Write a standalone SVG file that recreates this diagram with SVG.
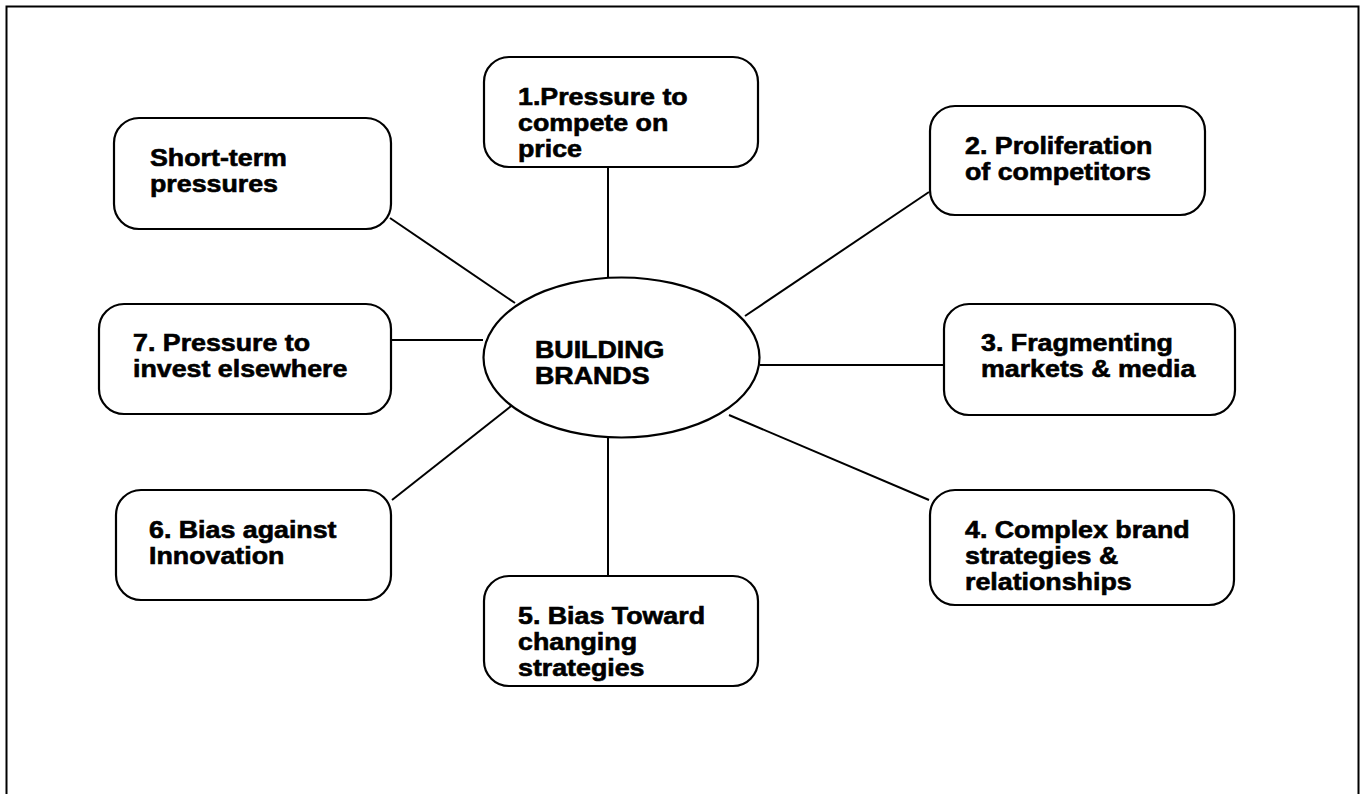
<svg xmlns="http://www.w3.org/2000/svg" width="1362" height="794" viewBox="0 0 1362 794">
  <style>
    .box { fill: #ffffff; stroke: #000000; stroke-width: 2.2; }
    .conn { stroke: #000000; stroke-width: 2; fill: none; }
    .lbl { font-family: "Liberation Sans", Arial, Helvetica, sans-serif; font-weight: bold; font-size: 23px; fill: #000000; stroke: #000000; stroke-width: 0.6; }
  </style>
  <rect x="0" y="0" width="1362" height="794" fill="#ffffff"/>
  <rect id="frame" x="6.5" y="6.5" width="1352" height="800" fill="none" stroke="#000000" stroke-width="2"/>

  <g id="connectors">
    <line class="conn" x1="390" y1="218" x2="515" y2="303"/>
    <line class="conn" x1="608" y1="168" x2="608" y2="278"/>
    <line class="conn" x1="745" y1="316" x2="929" y2="192"/>
    <line class="conn" x1="760" y1="365" x2="943" y2="365"/>
    <line class="conn" x1="729" y1="415" x2="929" y2="500"/>
    <line class="conn" x1="608" y1="438" x2="608" y2="575"/>
    <line class="conn" x1="392" y1="500" x2="515" y2="403"/>
    <line class="conn" x1="392" y1="340" x2="483" y2="340"/>
  </g>

  <g id="center">
    <ellipse class="box" cx="621.5" cy="357.5" rx="138" ry="80"/>
    <g transform="translate(535,358) scale(1.165,1)">
      <text class="lbl"><tspan x="0" y="0">BUILDING</tspan><tspan x="0" y="26">BRANDS</tspan></text>
    </g>
  </g>

  <g id="short-term">
    <rect class="box" x="114" y="118" width="277" height="111" rx="25" ry="25"/>
    <g transform="translate(150,166) scale(1.165,1)">
      <text class="lbl"><tspan x="0" y="0">Short-term</tspan><tspan x="0" y="26">pressures</tspan></text>
    </g>
  </g>

  <g id="node1">
    <rect class="box" x="484" y="57" width="274" height="110" rx="25" ry="25"/>
    <g transform="translate(518,105) scale(1.165,1)">
      <text class="lbl"><tspan x="0" y="0">1.Pressure to</tspan><tspan x="0" y="26">compete on</tspan><tspan x="0" y="52">price</tspan></text>
    </g>
  </g>

  <g id="node2">
    <rect class="box" x="930" y="106" width="275" height="109" rx="25" ry="25"/>
    <g transform="translate(965,154) scale(1.165,1)">
      <text class="lbl"><tspan x="0" y="0">2. Proliferation</tspan><tspan x="0" y="26">of competitors</tspan></text>
    </g>
  </g>

  <g id="node3">
    <rect class="box" x="944" y="304" width="291" height="111" rx="25" ry="25"/>
    <g transform="translate(981,351) scale(1.165,1)">
      <text class="lbl"><tspan x="0" y="0">3. Fragmenting</tspan><tspan x="0" y="26">markets &amp; media</tspan></text>
    </g>
  </g>

  <g id="node4">
    <rect class="box" x="930" y="490" width="304" height="115" rx="25" ry="25"/>
    <g transform="translate(965,538) scale(1.165,1)">
      <text class="lbl"><tspan x="0" y="0">4. Complex brand</tspan><tspan x="0" y="26">strategies &amp;</tspan><tspan x="0" y="52">relationships</tspan></text>
    </g>
  </g>

  <g id="node5">
    <rect class="box" x="484" y="576" width="274" height="110" rx="25" ry="25"/>
    <g transform="translate(518,624) scale(1.165,1)">
      <text class="lbl"><tspan x="0" y="0">5. Bias Toward</tspan><tspan x="0" y="26">changing</tspan><tspan x="0" y="52">strategies</tspan></text>
    </g>
  </g>

  <g id="node6">
    <rect class="box" x="116" y="490" width="275" height="110" rx="25" ry="25"/>
    <g transform="translate(149,538) scale(1.165,1)">
      <text class="lbl"><tspan x="0" y="0">6. Bias against</tspan><tspan x="0" y="26">Innovation</tspan></text>
    </g>
  </g>

  <g id="node7">
    <rect class="box" x="99" y="304" width="292" height="110" rx="25" ry="25"/>
    <g transform="translate(133,351) scale(1.165,1)">
      <text class="lbl"><tspan x="0" y="0">7. Pressure to</tspan><tspan x="0" y="26">invest elsewhere</tspan></text>
    </g>
  </g>
</svg>
